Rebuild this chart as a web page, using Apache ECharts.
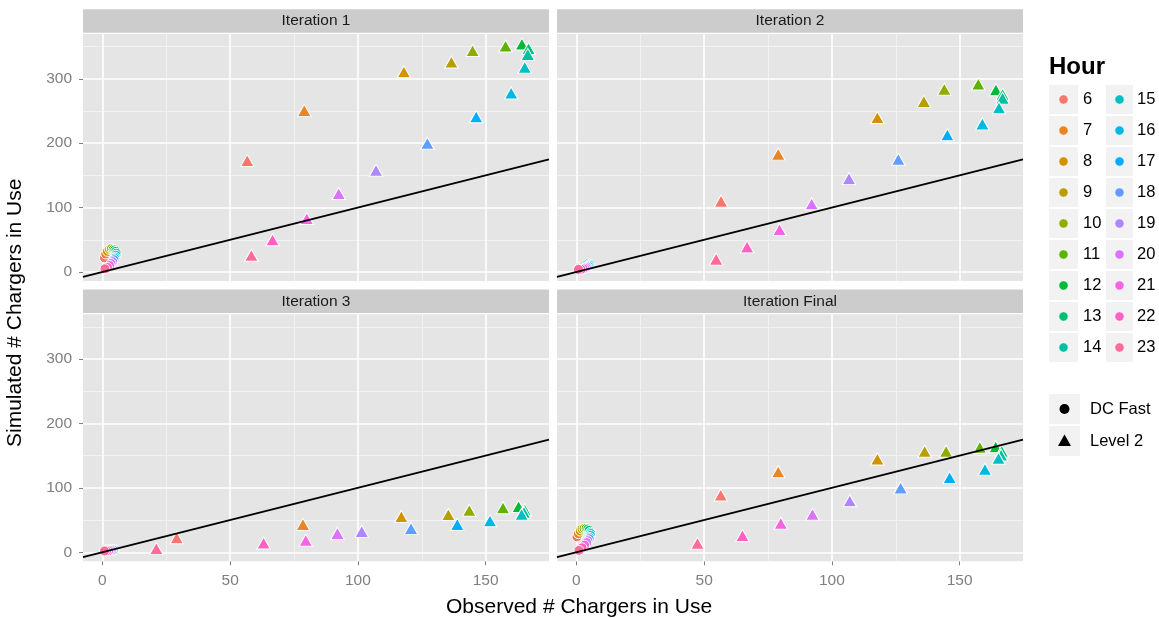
<!DOCTYPE html>
<html>
<head>
<meta charset="utf-8">
<title>Simulated vs Observed Chargers in Use</title>
<script src="https://cdn.jsdelivr.net/npm/echarts@6/dist/echarts.min.js"></script>
<style>
  html, body { margin: 0; padding: 0; background: #ffffff; }
  #chart { width: 1159px; height: 618px; }
</style>
</head>
<body>
<div id="chart"></div>
<script>
// ---- data -------------------------------------------------------------
const hours = [6, 7, 8, 9, 10, 11, 12, 13, 14, 15, 16, 17, 18, 19, 20, 21, 22, 23];
const panelNames = ['Iteration 1', 'Iteration 2', 'Iteration 3', 'Iteration Final'];
const chargerTypes = ['DC Fast', 'Level 2'];

const xTicks = [0, 50, 100, 150];
const xMinorTicks = [25, 75, 125];
const yTicks = [0, 100, 200, 300];
const yMinorTicks = [50, 150, 250, 350];

// values listed by hour, 6 .. 23
const dcObs1 = [0.8, 1.3, 2.0, 2.8, 3.5, 4.2, 4.8, 5.2, 5.4, 5.3, 5.0, 4.8, 4.5, 4.0, 3.4, 2.8, 2.0, 1.0];
const dcSim1 = [22, 28, 32, 35, 36, 35, 34, 32, 29, 26, 23, 21, 19, 16, 13, 10, 7, 5];
const l2Obs1 = [56.7, 79.0, 118.0, 136.6, 144.9, 157.8, 164.2, 166.8, 166.5, 165.3, 160.0, 146.3, 127.2, 107.1, 92.5, 80.0, 66.6, 58.3];
const l2Sim1 = [173, 251, 311, 326, 344, 351, 354, 347, 338, 318, 278, 241, 200, 158, 122, 83, 50, 26];

const dcObs2 = [0.8, 1.2, 1.8, 2.4, 3.0, 3.6, 4.2, 4.8, 5.2, 5.2, 5.0, 4.6, 4.2, 3.8, 3.2, 2.6, 1.8, 0.8];
const dcSim2 = [6, 7, 8, 9, 10, 11, 12, 13, 12, 11, 10, 9, 8, 7, 6, 5, 4, 4];
const l2Obs2 = [56.6, 79.0, 117.8, 136.0, 144.0, 157.3, 164.2, 166.8, 166.8, 165.4, 158.9, 145.2, 126.0, 106.7, 92.1, 79.5, 66.8, 54.7];
const l2Sim2 = [110, 183, 240, 265, 284, 292, 283, 276, 270, 255, 230, 213, 175, 145, 106, 66, 39, 20];

const dcObs3 = [0.8, 1.2, 1.8, 2.4, 3.0, 3.6, 4.2, 4.6, 4.8, 4.8, 4.6, 4.4, 4.2, 3.6, 3.0, 2.4, 1.6, 0.8];
const dcSim3 = [3, 3.5, 4, 4, 4.5, 4.5, 4.5, 4.5, 4, 4, 4, 3.5, 3.5, 3, 3, 2.5, 2, 2];
const l2Obs3 = [29.1, 78.5, 117.0, 135.4, 143.6, 156.8, 162.9, 165.3, 165.0, 164.1, 151.7, 138.9, 120.8, 101.5, 92.0, 79.6, 63.1, 21.1];
const l2Sim3 = [22.7, 43.3, 55.7, 58.8, 65.4, 69.1, 71.1, 66.0, 62.3, 59.2, 49.0, 43.3, 37.1, 32.5, 29.4, 18.6, 14.4, 5.7];

const dcObs4 = [0.2, 0.8, 1.5, 2.2, 3.0, 3.8, 4.5, 5.0, 5.5, 5.6, 5.5, 5.2, 5.0, 4.5, 4.0, 3.2, 2.2, 1.0];
const dcSim4 = [24, 29, 33, 36, 37, 37, 36, 34, 31, 29, 26, 23, 21, 18, 15, 11, 7, 3];
const l2Obs4 = [56.5, 79.0, 117.8, 136.3, 144.7, 157.9, 164.1, 166.5, 166.2, 165.2, 159.9, 146.1, 126.9, 107.0, 92.4, 80.0, 65.0, 47.4];
const l2Sim4 = [89, 125, 145, 157, 157, 163, 164, 157, 151, 146, 129, 116, 100, 80, 59, 45, 26, 14];

const dcObs = [dcObs1, dcObs2, dcObs3, dcObs4];
const dcSim = [dcSim1, dcSim2, dcSim3, dcSim4];
const l2Obs = [l2Obs1, l2Obs2, l2Obs3, l2Obs4];
const l2Sim = [l2Sim1, l2Sim2, l2Sim3, l2Sim4];

// ---- layout & style ----------------------------------------------------
const X_RANGE = [-7.6, 174.8];
const Y_RANGE = [-14, 369.6];
const PANEL_LEFT = [83, 557];
const PANEL_TOP = [34, 314.3];
const PW = 466, PH = 247;
const FONT = '"Liberation Sans", Arial, Helvetica, sans-serif';
const GREY_TEXT = '#7F7F7F';

// HCL (polar Luv) to sRGB hex, the hue palette used for hours
function hcl(h, c, l) {
  const WX = 95.047, WY = 100.0, WZ = 108.883;
  const hr = h * Math.PI / 180;
  const U = c * Math.cos(hr), V = c * Math.sin(hr);
  const Y = WY * (l > 7.999592 ? Math.pow((l + 16) / 116, 3) : l / 903.3);
  const t = WX + WY + WZ, x = WX / t, y = WY / t;
  const uN = 2 * x / (6 * y - x + 1.5), vN = 4.5 * y / (6 * y - x + 1.5);
  const u = U / (13 * l) + uN, v = V / (13 * l) + vN;
  const X = 9.0 * Y * u / (4 * v);
  const Z = -X / 3 - 5 * Y + 3 * Y / v;
  const g = q => q > 0.00304 ? 1.055 * Math.pow(q, 1 / 2.4) - 0.055 : 12.92 * q;
  const rgb = [
    g((3.240479 * X - 1.537150 * Y - 0.498535 * Z) / WY),
    g((-0.969256 * X + 1.875992 * Y + 0.041556 * Z) / WY),
    g((0.055648 * X - 0.204043 * Y + 1.057311 * Z) / WY)
  ];
  return '#' + rgb.map(q => {
    const n = Math.round(Math.max(0, Math.min(1, q)) * 255);
    return n.toString(16).padStart(2, '0');
  }).join('');
}
const hourColors = hours.map((_, i) => hcl(15 + 360 * i / hours.length, 100, 65));

// ---- build panels ------------------------------------------------------
const grids = [], xAxes = [], yAxes = [], series = [], graphics = [];

panelNames.forEach((name, p) => {
  const left = PANEL_LEFT[p % 2];
  const top = PANEL_TOP[Math.floor(p / 2)];
  const bottomRow = p >= 2;
  const leftCol = p % 2 === 0;

  grids.push({
    left: left, top: top, width: PW, height: PH,
    show: true, backgroundColor: '#E5E5E5', borderWidth: 0,
    containLabel: false, outerBoundsMode: 'none'
  });

  xAxes.push({
    type: 'value', gridIndex: p, min: X_RANGE[0], max: X_RANGE[1],
    axisLine: { show: false, onZero: false },
    splitLine: { show: false },
    axisTick: { show: bottomRow, customValues: xTicks, length: 4, lineStyle: { color: GREY_TEXT, width: 1 } },
    axisLabel: { show: bottomRow, customValues: xTicks, margin: 11, color: GREY_TEXT, fontSize: 15.5, fontFamily: FONT }
  });

  yAxes.push({
    type: 'value', gridIndex: p, min: Y_RANGE[0], max: Y_RANGE[1],
    axisLine: { show: false, onZero: false },
    splitLine: { show: false },
    axisTick: { show: leftCol, customValues: yTicks, length: 4, lineStyle: { color: GREY_TEXT, width: 1 } },
    axisLabel: { show: leftCol, customValues: yTicks, margin: 11, color: GREY_TEXT, fontSize: 15.5, fontFamily: FONT }
  });

  const minorStyle = { color: '#F2F2F2', width: 1, type: 'solid' };
  const majorStyle = { color: '#FFFFFF', width: 1.6, type: 'solid' };
  const gridLines = [].concat(
    xMinorTicks.map(v => ({ xAxis: v, lineStyle: minorStyle })),
    yMinorTicks.map(v => ({ yAxis: v, lineStyle: minorStyle })),
    xTicks.map(v => ({ xAxis: v, lineStyle: majorStyle })),
    yTicks.map(v => ({ yAxis: v, lineStyle: majorStyle }))
  );

  // y = x reference line, carrying the panel grid lines underneath
  series.push({
    type: 'line', xAxisIndex: p, yAxisIndex: p,
    data: [[X_RANGE[0], X_RANGE[0]], [X_RANGE[1], X_RANGE[1]]],
    showSymbol: false, symbol: 'none', silent: true, animation: false, z: 4,
    lineStyle: { color: '#000000', width: 1.8 },
    emphasis: { disabled: true },
    markLine: {
      z: 1, silent: true, animation: false, symbol: ['none', 'none'],
      label: { show: false }, emphasis: { disabled: true },
      data: gridLines
    }
  });

  series.push({
    type: 'scatter', name: chargerTypes[0], xAxisIndex: p, yAxisIndex: p,
    symbol: 'circle', symbolSize: 10, z: 3, animation: false, silent: true,
    itemStyle: { borderColor: '#FFFFFF', borderWidth: 1, opacity: 1 },
    emphasis: { disabled: true },
    data: hours.map((h, i) => ({ value: [dcObs[p][i], dcSim[p][i]], itemStyle: { color: hourColors[i] } }))
  });

  series.push({
    type: 'scatter', name: chargerTypes[1], xAxisIndex: p, yAxisIndex: p,
    symbol: 'triangle', symbolSize: [13.5, 12], z: 3, animation: false, silent: true,
    itemStyle: { borderColor: '#FFFFFF', borderWidth: 1, opacity: 1 },
    emphasis: { disabled: true },
    data: hours.map((h, i) => ({ value: [l2Obs[p][i], l2Sim[p][i]], itemStyle: { color: hourColors[i] } }))
  });

  // facet strip
  graphics.push({
    type: 'rect', silent: true, z: 0,
    shape: { x: left, y: top - 24.7, width: PW, height: 23.4 },
    style: { fill: '#CCCCCC' }
  });
  graphics.push({
    type: 'text', silent: true, z: 1,
    x: left + PW / 2, y: top - 13,
    style: { text: name, fill: '#1A1A1A', font: '15.5px ' + FONT, align: 'center', verticalAlign: 'middle' }
  });
});

// ---- axis titles --------------------------------------------------------
graphics.push({
  type: 'text', silent: true, x: 446, y: 607.5,
  style: { text: 'Observed # Chargers in Use', fill: '#000000', font: '21px ' + FONT, align: 'left', verticalAlign: 'middle' }
});
graphics.push({
  type: 'text', silent: true, x: 15, y: 447, rotation: Math.PI / 2,
  style: { text: 'Simulated # Chargers in Use', fill: '#000000', font: '21px ' + FONT, align: 'left', verticalAlign: 'middle' }
});

// ---- legend: Hour (two columns) ------------------------------------------
graphics.push({
  type: 'text', silent: true, x: 1049, y: 67,
  style: { text: 'Hour', fill: '#000000', font: 'bold 24px ' + FONT, align: 'left', verticalAlign: 'middle' }
});
const LEG_COL_X = [1049, 1106], LEG_COL_W = [29, 27], LEG_TEXT_X = [1083, 1137];
hours.forEach((h, i) => {
  const col = i < 9 ? 0 : 1, row = i % 9;
  const y0 = 85 + row * 31;
  const cx = LEG_COL_X[col] + LEG_COL_W[col] / 2, cy = y0 + 14.5;
  graphics.push({ type: 'rect', silent: true, shape: { x: LEG_COL_X[col], y: y0, width: LEG_COL_W[col], height: 29 }, style: { fill: '#F2F2F2' } });
  graphics.push({ type: 'circle', silent: true, z: 2, shape: { cx: cx, cy: cy, r: 4.8 }, style: { fill: hourColors[i], stroke: '#FFFFFF', lineWidth: 1 } });
  graphics.push({ type: 'text', silent: true, x: LEG_TEXT_X[col], y: cy, style: { text: String(h), fill: '#000000', font: '16.5px ' + FONT, align: 'left', verticalAlign: 'middle' } });
});

// ---- legend: charger type ----------------------------------------------
chargerTypes.forEach((t, i) => {
  const y0 = 394 + i * 32;
  const cx = 1064.5, cy = y0 + 15;
  graphics.push({ type: 'rect', silent: true, shape: { x: 1049, y: y0, width: 31, height: 30 }, style: { fill: '#F2F2F2' } });
  if (i === 0) {
    graphics.push({ type: 'circle', silent: true, z: 2, shape: { cx: cx, cy: cy, r: 5 }, style: { fill: '#000000' } });
  } else {
    graphics.push({ type: 'polygon', silent: true, z: 2, shape: { points: [[cx, cy - 6.5], [cx + 6.5, cy + 5], [cx - 6.5, cy + 5]] }, style: { fill: '#000000' } });
  }
  graphics.push({ type: 'text', silent: true, x: 1090, y: cy, style: { text: t, fill: '#000000', font: '16.5px ' + FONT, align: 'left', verticalAlign: 'middle' } });
});

const chart = echarts.init(document.getElementById('chart'), null, { renderer: 'canvas' });
chart.setOption({
  animation: false,
  backgroundColor: '#FFFFFF',
  grid: grids,
  xAxis: xAxes,
  yAxis: yAxes,
  series: series,
  graphic: { elements: graphics }
});
</script>
</body>
</html>
